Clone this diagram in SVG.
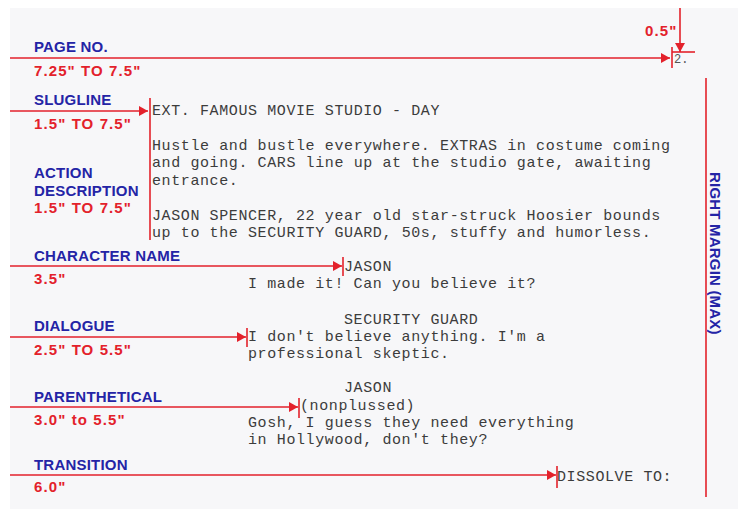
<svg xmlns="http://www.w3.org/2000/svg" width="738" height="509" viewBox="0 0 738 509">
<defs>
<style>
.lbl{font-family:"Liberation Sans",Arial,sans-serif;font-weight:bold;font-size:15px;fill:#2424a6;letter-spacing:0.2px}
.dim{font-family:"Liberation Sans",Arial,sans-serif;font-weight:bold;font-size:15px;fill:#e3212b;letter-spacing:1.1px}
.scr{font-family:"Liberation Mono","Courier New",monospace;font-size:15px;fill:#3c3c3c;letter-spacing:0.6px}
.ln{stroke:#e3212b;stroke-width:1.6;fill:none}
</style>
<marker id="ah" markerUnits="userSpaceOnUse" markerWidth="9" markerHeight="10" refX="9" refY="5" orient="auto">
<path d="M0,0 L9,5 L0,10 z" fill="#e3212b"/>
</marker>
</defs>
<rect x="0" y="0" width="738" height="509" fill="#ffffff"/>
<rect x="10" y="8" width="728" height="501" fill="#f7f7f9"/>

<g id="connectors">
<line class="ln" x1="10" y1="58" x2="670" y2="58" marker-end="url(#ah)"/>
<line class="ln" x1="672" y1="47" x2="672" y2="68"/>
<line class="ln" x1="672" y1="52" x2="695" y2="52"/>
<line class="ln" x1="680" y1="8" x2="680" y2="52" marker-end="url(#ah)"/>
<line class="ln" x1="706" y1="78" x2="706" y2="497"/>
<line class="ln" x1="10" y1="111" x2="148" y2="111" marker-end="url(#ah)"/>
<line class="ln" x1="150" y1="98" x2="150" y2="240"/>
<line class="ln" x1="10" y1="266" x2="342" y2="266" marker-end="url(#ah)"/>
<line class="ln" x1="343" y1="257" x2="343" y2="276"/>
<line class="ln" x1="10" y1="337" x2="246" y2="337" marker-end="url(#ah)"/>
<line class="ln" x1="247" y1="328" x2="247" y2="347"/>
<line class="ln" x1="10" y1="407" x2="298" y2="407" marker-end="url(#ah)"/>
<line class="ln" x1="299" y1="398" x2="299" y2="418"/>
<line class="ln" x1="10" y1="475" x2="556" y2="475" marker-end="url(#ah)"/>
<line class="ln" x1="557" y1="466" x2="557" y2="488"/>
</g>

<g id="page-no">
<text class="lbl" x="34" y="52">PAGE NO.</text>
<text class="dim" x="34" y="76">7.25" TO 7.5"</text>
</g>
<g id="top-margin">
<text class="dim" x="645" y="36">0.5"</text>
<text x="674" y="63" font-family="Liberation Mono,monospace" font-size="12" fill="#555">2.</text>
</g>
<g id="right-margin">
<text class="lbl" transform="translate(710,172) rotate(90)" x="0" y="0">RIGHT MARGIN (MAX)</text>
</g>
<g id="slugline">
<text class="lbl" x="34" y="105">SLUGLINE</text>
<text class="dim" x="34" y="129">1.5" TO 7.5"</text>
</g>
<g id="action-description">
<text class="lbl" x="34" y="178">ACTION</text>
<text class="lbl" x="34" y="196">DESCRIPTION</text>
<text class="dim" x="34" y="213">1.5" TO 7.5"</text>
</g>
<g id="character-name">
<text class="lbl" x="34" y="261">CHARACTER NAME</text>
<text class="dim" x="34" y="284">3.5"</text>
</g>
<g id="dialogue">
<text class="lbl" x="34" y="331">DIALOGUE</text>
<text class="dim" x="34" y="355">2.5" TO 5.5"</text>
</g>
<g id="parenthetical">
<text class="lbl" x="34" y="402">PARENTHETICAL</text>
<text class="dim" x="34" y="425">3.0" to 5.5"</text>
</g>
<g id="transition">
<text class="lbl" x="34" y="470">TRANSITION</text>
<text class="dim" x="34" y="492">6.0"</text>
</g>

<g id="script">
<text class="scr" x="152" y="115">EXT. FAMOUS MOVIE STUDIO - DAY</text>
<text class="scr" x="152" y="150">Hustle and bustle everywhere. EXTRAS in costume coming</text>
<text class="scr" x="152" y="167">and going. CARS line up at the studio gate, awaiting</text>
<text class="scr" x="152" y="185">entrance.</text>
<text class="scr" x="152" y="220">JASON SPENCER, 22 year old star-struck Hoosier bounds</text>
<text class="scr" x="152" y="237">up to the SECURITY GUARD, 50s, stuffy and humorless.</text>
<text class="scr" x="344" y="271">JASON</text>
<text class="scr" x="248" y="288">I made it! Can you believe it?</text>
<text class="scr" x="344" y="324">SECURITY GUARD</text>
<text class="scr" x="248" y="341">I don't believe anything. I'm a</text>
<text class="scr" x="248" y="358">professional skeptic.</text>
<text class="scr" x="344" y="392">JASON</text>
<text class="scr" x="300" y="410">(nonplussed)</text>
<text class="scr" x="248" y="427">Gosh, I guess they need everything</text>
<text class="scr" x="248" y="444">in Hollywood, don't they?</text>
<text class="scr" x="557" y="481">DISSOLVE TO:</text>
</g>
</svg>
